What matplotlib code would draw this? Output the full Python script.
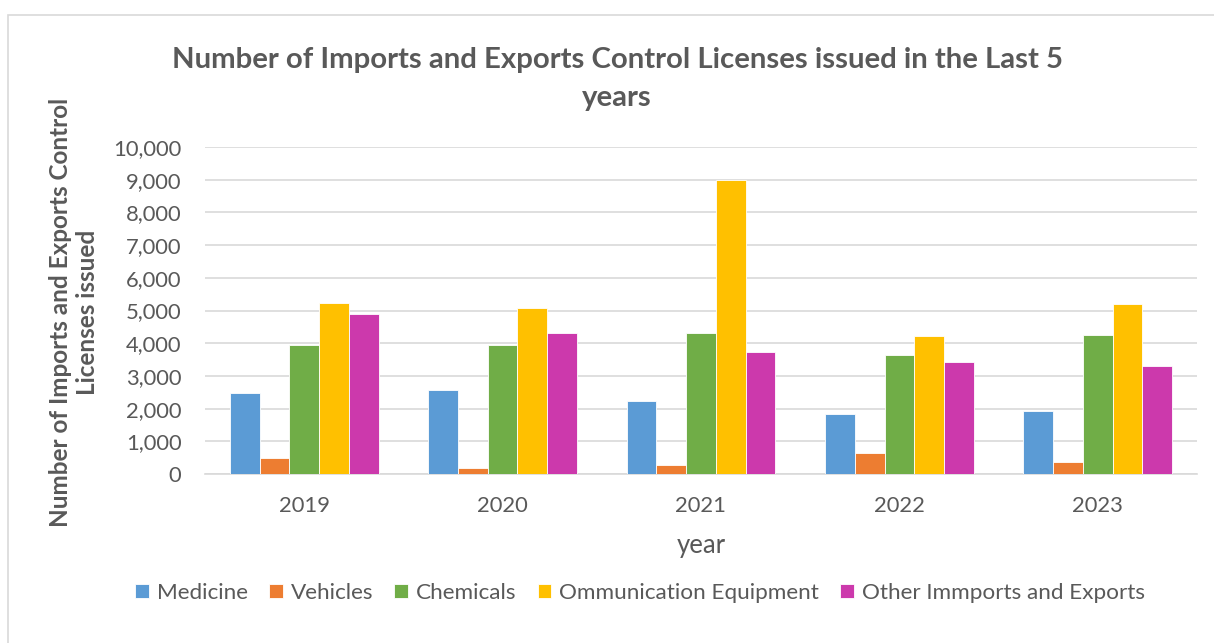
import matplotlib.pyplot as plt
import numpy as np
from matplotlib.ticker import FuncFormatter

plt.rcParams["font.family"] = ["Lato", "DejaVu Sans"]

years = ["2019", "2020", "2021", "2022", "2023"]
medicine = [2480, 2580, 2240, 1820, 1940]
vehicles = [500, 180, 280, 630, 370]
chemicals = [3940, 3950, 4310, 3640, 4240]
communication = [5230, 5080, 8980, 4220, 5210]
other = [4890, 4300, 3730, 3440, 3290]

series = [
    ("Medicine", medicine, "#5B9BD5"),
    ("Vehicles", vehicles, "#ED7D31"),
    ("Chemicals", chemicals, "#70AD47"),
    ("Ommunication Equipment", communication, "#FFC000"),
    ("Other Immports and Exports", other, "#CC39AC"),
]

text_col = "#595959"
W, H = 1214, 643

fig = plt.figure(figsize=(W / 100, H / 100), dpi=100)
ax = fig.add_axes([205 / W, 1 - 474 / H, (1197 - 205) / W, (474 - 147) / H])

x = np.arange(len(years))
w = 0.15
for i, (name, vals, col) in enumerate(series):
    ax.bar(x + (i - 2) * w, vals, w, color=col, label=name, edgecolor="white", linewidth=0.6, zorder=3)

ax.set_xlim(-0.5, len(years) - 0.5)
ax.set_ylim(0, 10000)
ax.set_yticks(range(0, 10001, 1000))
ax.yaxis.set_major_formatter(FuncFormatter(lambda v, p: f"{int(v):,}"))
ax.set_xticks(x)
ax.set_xticklabels(years)
ax.grid(axis="y", color="#D9D9D9", linewidth=1.2, zorder=0)
ax.tick_params(axis="y", length=0, labelsize=15.8, colors=text_col, pad=17)
ax.tick_params(axis="x", length=0, labelsize=15.8, colors=text_col, pad=16)
for s in ["top", "right", "left"]:
    ax.spines[s].set_visible(False)
ax.spines["bottom"].set_color("#D9D9D9")
ax.spines["bottom"].set_linewidth(1.2)

fig.text(701 / W, 1 - 545 / H, "year", ha="center", va="center", fontsize=18.5, color=text_col)
fig.text(74 / W, 1 - 312 / H, "Number of Imports and Exports Control\nLicenses issued",
         rotation=90, ha="center", va="center", fontsize=17.5, fontweight="bold", color=text_col,
         linespacing=1.2)

fig.text(617 / W, 1 - 79 / H, "Number of Imports and Exports Control Licenses issued in the Last 5\nyears",
         ha="center", va="center", fontsize=21.2, fontweight="bold", color=text_col, linespacing=1.55)

fig.legend(loc="center", bbox_to_anchor=(640 / W, 1 - 593 / H), ncol=5, frameon=False,
           fontsize=16.2, labelcolor=text_col, handlelength=0.6, handleheight=0.6,
           columnspacing=0.95, handletextpad=0.35)

border = plt.Rectangle((8 / W, -0.05), 1.1, 1 - 15 / H + 0.05, transform=fig.transFigure,
                       fill=False, edgecolor="#D9D9D9", linewidth=1.2)
fig.patches.append(border)

fig.savefig("out.png", dpi=100)
